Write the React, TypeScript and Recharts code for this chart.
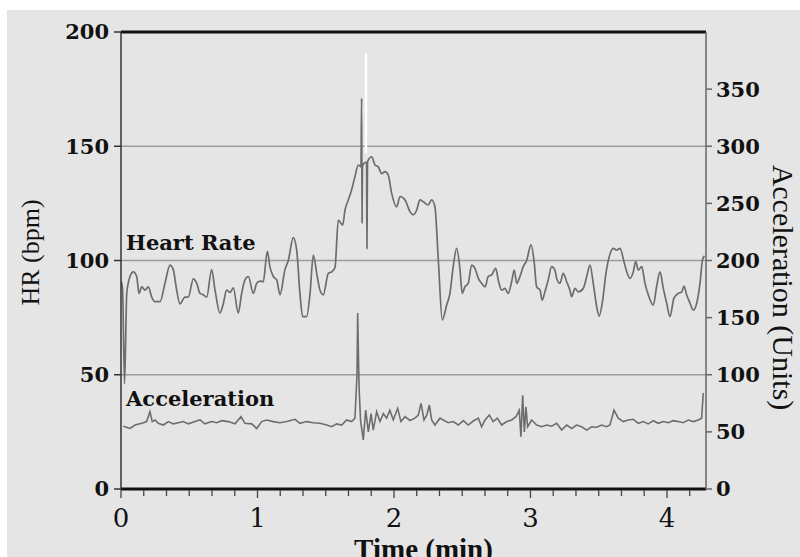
import React from 'react';
import { LineChart, Line, XAxis, YAxis, ReferenceLine, ReferenceDot } from 'recharts';

// heart rate trace (time in min, bpm)
const hrTime = [
  0, 0.011, 0.026, 0.042, 0.066, 0.09, 0.115, 0.132, 0.152, 0.176, 0.2, 0.225, 0.249, 0.286, 0.322, 0.359,
  0.383, 0.408, 0.432, 0.469, 0.493, 0.53, 0.555, 0.579, 0.603, 0.628, 0.664, 0.689, 0.725, 0.749, 0.774,
  0.799, 0.823, 0.859, 0.884, 0.908, 0.933, 0.969, 0.994, 1.018, 1.042, 1.072, 1.092, 1.116, 1.141, 1.165,
  1.201, 1.226, 1.262, 1.287, 1.311, 1.331, 1.36, 1.385, 1.409, 1.434, 1.458, 1.482, 1.519, 1.544, 1.568,
  1.592, 1.624, 1.641, 1.665, 1.69, 1.714, 1.738, 1.758, 1.763, 1.766, 1.769, 1.78, 1.799, 1.802, 1.806,
  1.812, 1.837, 1.861, 1.885, 1.91, 1.934, 1.958, 1.983, 2.02, 2.044, 2.081, 2.117, 2.141, 2.166, 2.19,
  2.215, 2.251, 2.276, 2.3, 2.325, 2.354, 2.386, 2.41, 2.434, 2.459, 2.484, 2.5, 2.52, 2.544, 2.569, 2.593,
  2.618, 2.642, 2.667, 2.691, 2.716, 2.745, 2.764, 2.789, 2.813, 2.837, 2.862, 2.881, 2.899, 2.923, 2.947,
  2.972, 3.004, 3.028, 3.045, 3.07, 3.086, 3.106, 3.13, 3.155, 3.179, 3.192, 3.216, 3.24, 3.265, 3.289,
  3.302, 3.326, 3.35, 3.387, 3.412, 3.436, 3.46, 3.485, 3.504, 3.529, 3.553, 3.577, 3.607, 3.632, 3.656,
  3.685, 3.709, 3.729, 3.753, 3.771, 3.79, 3.815, 3.839, 3.863, 3.9, 3.924, 3.949, 3.973, 3.998, 4.022,
  4.051, 4.083, 4.108, 4.125, 4.144, 4.169, 4.193, 4.218, 4.242, 4.261, 4.275,
];
const hrValue = [
  91, 88, 46, 85.6, 93, 95, 93, 85.6, 88.5, 87, 88.5, 84, 82, 82, 90, 98,
  96, 87, 81, 84, 84, 92, 90, 85.6, 85, 84, 96, 87, 77, 81, 87,
  86, 88, 77, 85.6, 91.5, 93, 85.6, 90, 91, 90.7, 104, 97, 93, 91.5, 85,
  96, 100, 110, 104.6, 85.6, 75.4, 75.4, 85.6, 102.4, 94.4, 87, 85, 94.4, 95, 97,
  117.7, 115.5, 122, 126.5, 131, 136.7, 141.8, 141, 171, 116.5, 141, 142.5, 143, 105.3, 143,
  144, 145.4, 141.8, 141, 138, 138.9, 137.4, 129.4, 123.5, 128, 126.5, 121.4, 120, 122, 126.5,
  125.7, 124.3, 126.5, 123.5, 100, 74, 80.5, 85.6, 97.3, 105.3, 95.8, 85.6, 88.5, 90, 98, 96.6,
  92.2, 90, 88.5, 93, 93.7, 96.6, 91.5, 87, 87.8, 85.6, 90.7, 95.8, 90, 93, 97.3,
  100, 106.8, 98.8, 88.5, 87, 82.7, 86.3, 91.5, 97.3, 95.8, 92.2, 90, 94.4, 90.7, 87,
  84.2, 87.8, 86.3, 87.8, 93, 98, 90, 79.8, 75.7, 82.7, 94.4, 101.7, 105.3, 104.6, 105.3,
  99.5, 94.4, 92.2, 95, 99.5, 95.8, 97.3, 90, 85, 80.5, 88.5, 95, 87.8, 81.3, 75.4,
  83.5, 85.6, 86.3, 88.8, 85, 81.3, 78.3, 81.3, 90, 100.5, 102,
];

// acceleration trace (time in min, units on right axis)
const accTime = [
  0.017, 0.066, 0.103, 0.152, 0.188, 0.212, 0.229, 0.249, 0.273, 0.31, 0.347, 0.383, 0.42, 0.456, 0.493,
  0.542, 0.579, 0.615, 0.664, 0.701, 0.738, 0.786, 0.835, 0.879, 0.908, 0.958, 0.994, 1.031, 1.067, 1.116,
  1.165, 1.214, 1.275, 1.311, 1.36, 1.409, 1.458, 1.507, 1.544, 1.58, 1.617, 1.653, 1.69, 1.714, 1.729,
  1.734, 1.744, 1.755, 1.775, 1.793, 1.812, 1.832, 1.848, 1.873, 1.897, 1.922, 1.946, 1.97, 1.995, 2.027,
  2.051, 2.081, 2.117, 2.154, 2.178, 2.198, 2.22, 2.24, 2.259, 2.276, 2.3, 2.337, 2.361, 2.398, 2.434,
  2.471, 2.508, 2.544, 2.581, 2.618, 2.642, 2.667, 2.698, 2.727, 2.757, 2.789, 2.826, 2.862, 2.894, 2.918,
  2.93, 2.943, 2.955, 2.967, 2.979, 3.009, 3.045, 3.082, 3.119, 3.155, 3.192, 3.229, 3.265, 3.302, 3.338,
  3.375, 3.412, 3.448, 3.485, 3.522, 3.558, 3.582, 3.612, 3.643, 3.68, 3.716, 3.753, 3.79, 3.826, 3.863,
  3.9, 3.936, 3.973, 4.01, 4.046, 4.083, 4.119, 4.156, 4.193, 4.229, 4.254, 4.266,
];
const accValue = [
  55, 53, 56, 57.5, 59, 67.6, 59, 60.4, 57.5, 56, 59, 57, 58, 59, 57,
  59, 60.4, 57, 59, 58, 59.8, 59, 57, 63.3, 57.5, 57, 53, 59, 60.4, 59,
  58, 59, 61, 57.5, 59, 58, 57.5, 56, 54.5, 57, 56, 60.4, 59, 62, 100,
  154, 90, 60, 43, 69, 50, 66, 51.6, 67.6, 59, 66, 62, 69, 60.4, 70.6,
  59, 63.3, 60, 62, 64.7, 75, 60.4, 64.7, 73.5, 60.4, 56, 62, 60.4, 58, 59,
  56, 59.8, 56, 59.5, 62, 54.5, 60.4, 64.7, 59, 62, 56, 59, 60.4, 63.3, 69,
  45.8, 82, 50, 72, 54.5, 60.4, 56, 54.5, 56, 55, 57.5, 51.6, 56, 53, 56,
  54.5, 51.6, 54.5, 54, 56, 54.5, 56, 69, 62, 59, 60.4, 61, 57.5, 59, 57,
  59.8, 57.5, 59, 58, 59.8, 59, 58, 60.4, 59, 60.4, 62, 84,
];

const hrData = hrTime.map((t, i) => ({ t, v: hrValue[i] }));
const accData = accTime.map((t, i) => ({ t, v: accValue[i] }));

const xMax = 4.286;
const xTicks = Array.from({ length: 26 }, (_, i) => (i * 10) / 60); // every 10 s
const hrTicks = [0, 50, 100, 150, 200];
const accTicks = [0, 50, 100, 150, 200, 250, 300, 350];
const gridValues = [50, 100, 150];
const markerLine = { t: 1.795, from: 147, to: 190.8 }; // white marker in the original

const serif = 'DejaVu Serif';
const lineColor = '#6d6d6d';

const TimeTick = (props: any) => {
  const { x, y, payload } = props;
  const v = payload.value;
  const major = Math.abs(v - Math.round(v)) < 1e-6;
  return (
    <g>
      <line x1={x} x2={x} y1={y + 1} y2={y + (major ? 9 : 7)} stroke="#444" strokeWidth={1.3} />
      {major && (
        <text x={x} y={y + 38} textAnchor="middle" fill="#111" fontSize={26} fontFamily={serif}>
          {Math.round(v)}
        </text>
      )}
    </g>
  );
};

export default function App() {
  return (
    <div
      style={{
        position: 'fixed',
        left: 7,
        top: 10,
        width: 793,
        height: 547,
        background: '#e5e5e5',
        overflow: 'hidden',
      }}
    >
      <LineChart width={793} height={547} margin={{ top: 22, right: 0, bottom: 0, left: 0 }}>
        <XAxis
          type="number"
          dataKey="t"
          domain={[0, xMax]}
          ticks={xTicks}
          interval={0}
          tick={<TimeTick />}
          tickLine={false}
          tickSize={0}
          tickMargin={0}
          height={68}
          axisLine={{ stroke: '#111', strokeWidth: 3 }}
          allowDataOverflow
          label={{
            value: 'Time (min)',
            position: 'insideBottom',
            offset: -2,
            dx: 10,
            fill: '#111',
            fontSize: 29,
            fontWeight: 'bold',
            fontFamily: 'Liberation Serif',
          }}
        />
        <YAxis
          yAxisId="left"
          domain={[0, 200]}
          ticks={hrTicks}
          interval={0}
          width={114}
          tickSize={7}
          tickMargin={5}
          axisLine={{ stroke: '#333', strokeWidth: 1.5 }}
          tickLine={{ stroke: '#333', strokeWidth: 1.5 }}
          tick={{ fill: '#111', fontSize: 21, fontWeight: 'bold', fontFamily: serif }}
          label={{
            value: 'HR (bpm)',
            angle: -90,
            position: 'insideLeft',
            offset: 23,
            dy: -8,
            fill: '#111',
            fontSize: 26,
            fontFamily: 'Liberation Serif',
            style: { textAnchor: 'middle' },
          }}
        />
        <YAxis
          yAxisId="right"
          orientation="right"
          domain={[0, 400]}
          ticks={accTicks}
          interval={0}
          width={94}
          tickSize={6}
          tickMargin={4}
          axisLine={{ stroke: '#666', strokeWidth: 1.5 }}
          tickLine={{ stroke: '#666', strokeWidth: 1.5 }}
          tick={{ fill: '#111', fontSize: 21, fontWeight: 'bold', fontFamily: serif }}
          label={{
            value: 'Acceleration (Units)',
            angle: 90,
            position: 'insideRight',
            offset: 16,
            dy: 27,
            fill: '#111',
            fontSize: 30,
            fontFamily: 'Liberation Serif',
            style: { textAnchor: 'middle' },
          }}
        />
        {gridValues.map((g) => (
          <ReferenceLine key={g} yAxisId="left" y={g} stroke="#9c9c9c" strokeWidth={1.5} />
        ))}
        <ReferenceLine yAxisId="left" y={200} stroke="#111" strokeWidth={3} />
        <Line
          yAxisId="left"
          data={hrData}
          dataKey="v"
          type="monotone"
          stroke={lineColor}
          strokeWidth={1.7}
          dot={false}
          isAnimationActive={false}
        />
        <Line
          yAxisId="right"
          data={accData}
          dataKey="v"
          type="linear"
          stroke={lineColor}
          strokeWidth={1.6}
          dot={false}
          isAnimationActive={false}
        />
        <ReferenceLine
          yAxisId="left"
          segment={[
            { x: markerLine.t, y: markerLine.from },
            { x: markerLine.t, y: markerLine.to },
          ]}
          stroke="#ffffff"
          strokeWidth={2.5}
        />
        <ReferenceDot
          yAxisId="left"
          x={0.037}
          y={107.7}
          r={0}
          stroke="none"
          fill="none"
          label={{
            value: 'Heart Rate',
            position: 'right',
            offset: 0,
            fill: '#111',
            fontSize: 21,
            fontWeight: 'bold',
            fontFamily: serif,
          }}
        />
        <ReferenceDot
          yAxisId="left"
          x={0.037}
          y={39.5}
          r={0}
          stroke="none"
          fill="none"
          label={{
            value: 'Acceleration',
            position: 'right',
            offset: 0,
            fill: '#111',
            fontSize: 21,
            fontWeight: 'bold',
            fontFamily: serif,
          }}
        />
      </LineChart>
    </div>
  );
}
